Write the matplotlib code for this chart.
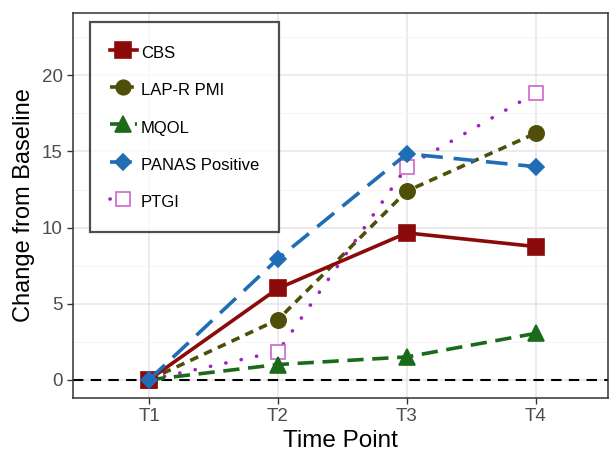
import matplotlib
matplotlib.use("Agg")
import matplotlib.pyplot as plt

plt.rcParams["font.family"] = ["Liberation Sans", "DejaVu Sans"]

time_points = ["T1", "T2", "T3", "T4"]
cbs = [0, 6.0, 9.65, 8.75]
lap_r_pmi = [0, 3.95, 12.4, 16.2]
mqol = [0, 1.0, 1.5, 3.05]
panas_pos = [0, 7.95, 14.85, 14.0]
ptgi = [0, 1.85, 14.0, 18.85]

# name, values, colour, dash, marker, face, size, zorder
series = [
    ("CBS", cbs, "#8b0a0a", "-", "s", "#8b0a0a", 11.5, 4),
    ("LAP-R PMI", lap_r_pmi, "#4f4f0a", (0, (2.4, 1.8)), "o", "#4f4f0a", 11, 3),
    ("MQOL", mqol, "#1a6a1a", (0, (4.5, 2.4)), "^", "#1a6a1a", 12, 3),
    ("PANAS Positive", panas_pos, "#1f6db5", (0, (6, 3)), "D", "#1f6db5", 8.5, 5),
    ("PTGI", ptgi, "#a020c0", (0, (0.05, 4.3)), "s", "white", 10.5, 2),
]

fig = plt.figure(figsize=(6.11, 4.57), dpi=100)
ax = fig.add_axes([73 / 611, 59 / 457, 535 / 611, 385 / 457])

x = list(range(1, len(time_points) + 1))
ax.axhline(0, color="black", lw=1.5, ls=(0, (5, 3.5)), zorder=1)

for name, vals, color, ls, marker, face, ms, z in series:
    edge = "#cc66cc" if name == "PTGI" else color
    cap = "round" if name == "PTGI" else "butt"
    ax.plot(x, vals, color=color, ls=ls, lw=2.6, marker=marker, ms=ms,
            markerfacecolor=face, markeredgecolor=edge, markeredgewidth=1.2,
            label=name, zorder=z, dash_capstyle=cap)

ax.set_xlim(0.41, 4.56)
ax.set_ylim(-1.2, 24.1)
ax.set_xticks(x)
ax.set_xticklabels(time_points)
ax.set_yticks([0, 5, 10, 15, 20])
ax.set_yticks([2.5, 7.5, 12.5, 17.5, 22.5], minor=True)
ax.tick_params(axis="both", which="major", labelsize=13.5, colors="#333333",
               labelcolor="#4d4d4d", length=4, width=1)
ax.tick_params(axis="both", which="minor", length=0)
ax.grid(True, which="major", color="#e6e6e6", lw=1.1)
ax.grid(True, which="minor", axis="y", color="#f2f2f2", lw=0.6)
ax.set_axisbelow(True)
for s in ax.spines.values():
    s.set_color("#333333")
    s.set_linewidth(1.1)

ax.set_xlabel("Time Point", fontsize=17.5, labelpad=3)
ax.set_ylabel("Change from Baseline", fontsize=17, labelpad=5)

leg = ax.legend(loc="upper left", bbox_to_anchor=(0.032, 0.977), fontsize=12,
                frameon=True, fancybox=False, handlelength=1.6,
                handleheight=1.6, labelspacing=0.95, borderpad=1.2,
                handletextpad=0.25, borderaxespad=0, markerscale=0.95)
leg.get_frame().set_edgecolor("#222222")
leg.get_frame().set_linewidth(1.6)

fig.savefig("out.png", dpi=100)
